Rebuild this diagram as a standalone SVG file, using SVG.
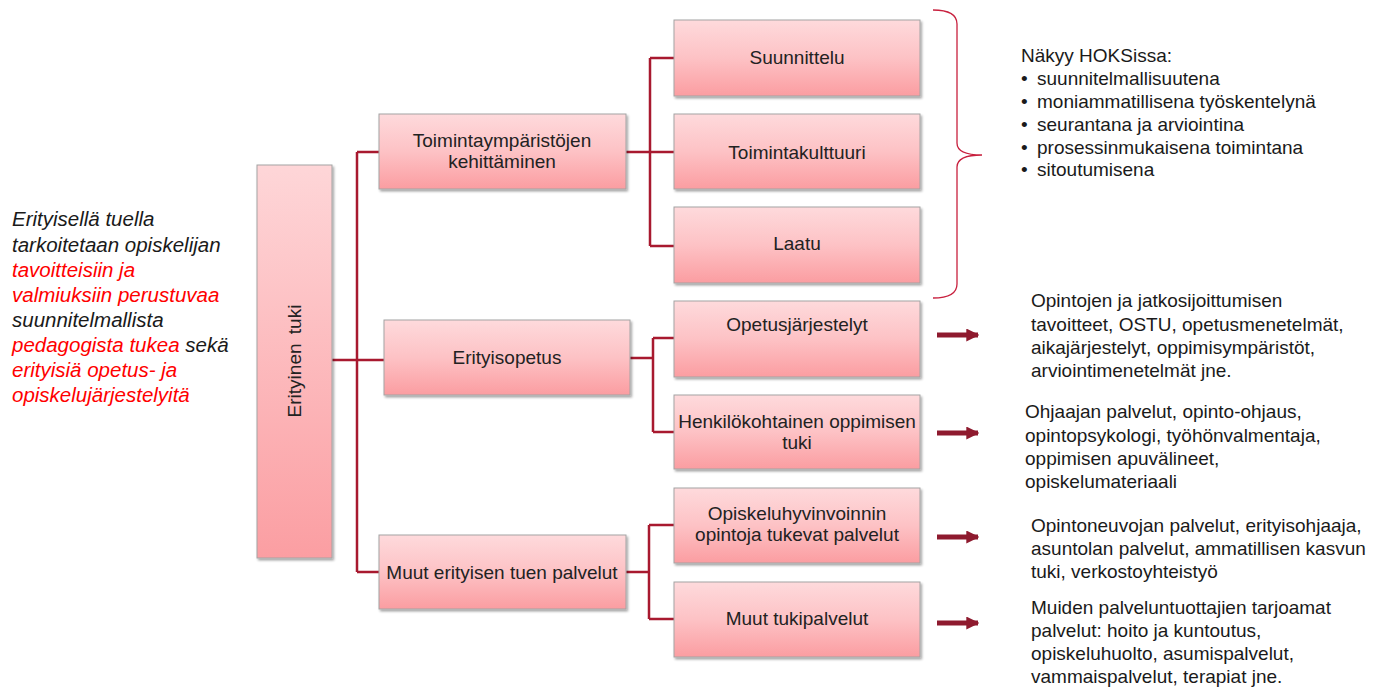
<svg xmlns="http://www.w3.org/2000/svg" width="1383" height="689" viewBox="0 0 1383 689">
<defs>
<linearGradient id="pink" x1="0" y1="0" x2="0" y2="1">
<stop offset="0" stop-color="#fedadc"/>
<stop offset="0.5" stop-color="#fdc2c5"/>
<stop offset="1" stop-color="#fb9da1"/>
</linearGradient>
<linearGradient id="pinkH" x1="0" y1="0" x2="0" y2="1">
<stop offset="0" stop-color="#fed6d8"/>
<stop offset="1" stop-color="#fb9ea2"/>
</linearGradient>
<filter id="sh" x="-10%" y="-10%" width="130%" height="130%">
<feDropShadow dx="1.5" dy="2" stdDeviation="1.2" flood-color="#000" flood-opacity="0.35"/>
</filter>
<marker id="ah" viewBox="0 0 10 10" refX="9" refY="5" markerWidth="2.6" markerHeight="2.6" orient="auto" markerUnits="strokeWidth">
<path d="M0,0 L10,5 L0,10 z" fill="#8e1a2e"/>
</marker>
</defs>
<style>
.box{fill:url(#pink);stroke:#a3a3a3;stroke-width:1;filter:url(#sh)}
.lbl{font-family:"Liberation Sans",Arial,sans-serif;font-size:19px;fill:#222;text-anchor:middle}
.conn{fill:none;stroke:#a8192f;stroke-width:2.5}
.arr{stroke:#8e1a2e;stroke-width:5;marker-end:url(#ah)}
.rt{font-family:"Liberation Sans",Arial,sans-serif;font-size:19px;fill:#1a1a1a}
.lt{font-family:"Liberation Sans",Arial,sans-serif;font-size:20.5px;font-style:italic;fill:#1a1a1a}
.red{fill:#ff0000}
</style>

<g id="connectors">
<path class="conn" d="M357,152 V572 M357,152 H379 M332,360 H384 M357,572 H379"/>
<path class="conn" d="M626,152 H650 M650,58 V246 M650,58 H674 M650,152 H674 M650,246 H674"/>
<path class="conn" d="M630,358 H653 M653,338 V432 M653,338 H674 M653,432 H674"/>
<path class="conn" d="M626,572 H649 M649,525 V619 M649,525 H674 M649,619 H674"/>
<path d="M933,10 Q957,10 957,24 V143 Q957,155 982,155 Q957,155 957,167 V284 Q957,298 933,298" fill="none" stroke="#c8203e" stroke-width="1.3"/>
<line class="arr" x1="937" y1="335" x2="978" y2="335"/>
<line class="arr" x1="937" y1="433" x2="978" y2="433"/>
<line class="arr" x1="937" y1="537" x2="978" y2="537"/>
<line class="arr" x1="937" y1="623" x2="978" y2="623"/>
</g>

<g id="n-erityinen-tuki">
<rect class="box" x="257" y="165" width="75" height="393" style="fill:url(#pinkH)"/>
<text class="lbl" transform="translate(301,361) rotate(-90)" word-spacing="4">Erityinen tuki</text>
</g>

<g id="n-toimintaymparistojen">
<rect class="box" x="379" y="114" width="247" height="75"/>
<text class="lbl" x="502" y="147">Toimintaympäristöjen</text>
<text class="lbl" x="502" y="168">kehittäminen</text>
</g>

<g id="n-erityisopetus">
<rect class="box" x="384" y="320" width="246" height="75"/>
<text class="lbl" x="507" y="364">Erityisopetus</text>
</g>

<g id="n-muut-erityisen">
<rect class="box" x="379" y="535" width="247" height="74"/>
<text class="lbl" x="502" y="579">Muut erityisen tuen palvelut</text>
</g>

<g id="n-suunnittelu">
<rect class="box" x="674" y="20" width="246" height="76"/>
<text class="lbl" x="797" y="64">Suunnittelu</text>
</g>

<g id="n-toimintakulttuuri">
<rect class="box" x="674" y="114" width="246" height="75"/>
<text class="lbl" x="797" y="159">Toimintakulttuuri</text>
</g>

<g id="n-laatu">
<rect class="box" x="674" y="207" width="246" height="76"/>
<text class="lbl" x="797" y="250">Laatu</text>
</g>

<g id="n-opetusjarjestelyt">
<rect class="box" x="674" y="301" width="246" height="76"/>
<text class="lbl" x="797" y="331">Opetusjärjestelyt</text>
</g>

<g id="n-henkilokohtainen">
<rect class="box" x="674" y="395" width="246" height="74"/>
<text class="lbl" x="797" y="428">Henkilökohtainen oppimisen</text>
<text class="lbl" x="797" y="449">tuki</text>
</g>

<g id="n-opiskeluhyvinvoinnin">
<rect class="box" x="674" y="488" width="246" height="75"/>
<text class="lbl" x="797" y="520">Opiskeluhyvinvoinnin</text>
<text class="lbl" x="797" y="541">opintoja tukevat palvelut</text>
</g>

<g id="n-muut-tukipalvelut">
<rect class="box" x="674" y="582" width="246" height="75"/>
<text class="lbl" x="797" y="625">Muut tukipalvelut</text>
</g>

<g id="t-left">
<text class="lt" x="12" y="226">Erityisellä tuella</text>
<text class="lt" x="12" y="252">tarkoitetaan opiskelijan</text>
<text class="lt red" x="12" y="277">tavoitteisiin ja</text>
<text class="lt red" x="12" y="302">valmiuksiin perustuvaa</text>
<text class="lt" x="12" y="327">suunnitelmallista</text>
<text class="lt" x="12" y="352"><tspan class="red">pedagogista tukea</tspan> sekä</text>
<text class="lt red" x="12" y="377">erityisiä opetus- ja</text>
<text class="lt red" x="12" y="402">opiskelujärjestelyitä</text>
</g>

<g id="t-hoks">
<text class="rt" x="1021" y="62">Näkyy HOKSissa:</text>
<text class="rt" x="1021" y="85">•</text><text class="rt" x="1037" y="85">suunnitelmallisuutena</text>
<text class="rt" x="1021" y="108">•</text><text class="rt" x="1037" y="108">moniammatillisena työskentelynä</text>
<text class="rt" x="1021" y="131">•</text><text class="rt" x="1037" y="131">seurantana ja arviointina</text>
<text class="rt" x="1021" y="154">•</text><text class="rt" x="1037" y="154">prosessinmukaisena toimintana</text>
<text class="rt" x="1021" y="176">•</text><text class="rt" x="1037" y="176">sitoutumisena</text>
</g>

<g id="t-opintojen">
<text class="rt" x="1031" y="307">Opintojen ja jatkosijoittumisen</text>
<text class="rt" x="1031" y="331">tavoitteet, OSTU, opetusmenetelmät,</text>
<text class="rt" x="1031" y="354">aikajärjestelyt, oppimisympäristöt,</text>
<text class="rt" x="1031" y="377">arviointimenetelmät jne.</text>
</g>

<g id="t-ohjaajan">
<text class="rt" x="1025" y="418">Ohjaajan palvelut, opinto-ohjaus,</text>
<text class="rt" x="1025" y="442">opintopsykologi, työhönvalmentaja,</text>
<text class="rt" x="1025" y="465">oppimisen apuvälineet,</text>
<text class="rt" x="1025" y="488">opiskelumateriaali</text>
</g>

<g id="t-opintoneuvojan">
<text class="rt" x="1031" y="532">Opintoneuvojan palvelut, erityisohjaaja,</text>
<text class="rt" x="1031" y="555">asuntolan palvelut, ammatillisen kasvun</text>
<text class="rt" x="1031" y="578">tuki, verkostoyhteistyö</text>
</g>

<g id="t-muiden">
<text class="rt" x="1031" y="614">Muiden palveluntuottajien tarjoamat</text>
<text class="rt" x="1031" y="637">palvelut: hoito ja kuntoutus,</text>
<text class="rt" x="1031" y="660">opiskeluhuolto, asumispalvelut,</text>
<text class="rt" x="1031" y="683">vammaispalvelut, terapiat jne.</text>
</g>
</svg>
